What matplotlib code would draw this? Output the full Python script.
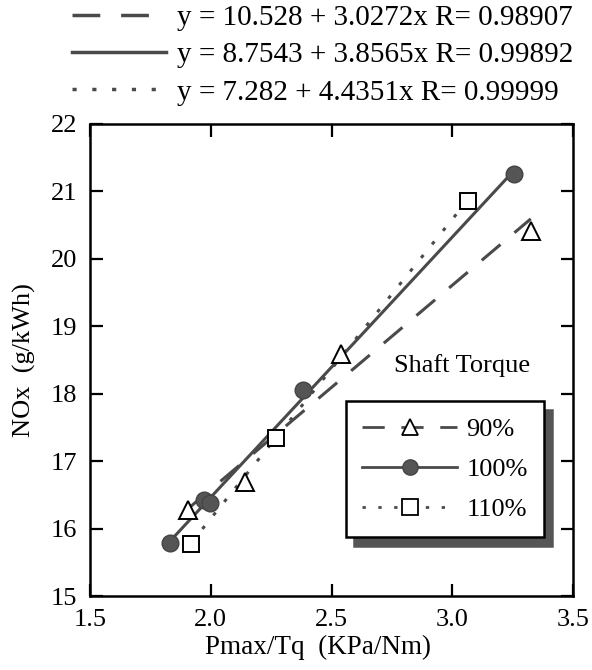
import numpy as np
import matplotlib.pyplot as plt
from matplotlib.lines import Line2D

plt.rcParams['font.family'] = ['Liberation Serif', 'DejaVu Serif']

# data
x90 = [1.905, 2.14, 2.54, 3.325]
y90 = [16.28, 16.69, 18.59, 20.42]
x100 = [1.832, 1.97, 1.998, 2.38, 3.254]
y100 = [15.79, 16.43, 16.38, 18.06, 21.26]
x110 = [1.92, 2.27, 3.064]
y110 = [15.78, 17.34, 20.86]

# fits as printed on the chart: (intercept, slope, R)
fit90 = (10.528, 3.0272, 0.98907)
fit100 = (8.7543, 3.8565, 0.99892)
fit110 = (7.282, 4.4351, 0.99999)

xticks = [1.5, 2.0, 2.5, 3.0, 3.5]
xticklabels = ["1.5", "2.0", "2.5", "3.0", "3.5"]
yticks = [15, 16, 17, 18, 19, 20, 21, 22]

gray = "#4a4a4a"
dash90 = (0, (8, 6))
dot110 = (0, (1.2, 4.5))

fig = plt.figure(figsize=(5.92, 6.70), dpi=100)
ax = fig.add_axes([0.152, 0.110, 0.816, 0.705])

def fitline(xs, fit):
    xx = np.array([min(xs), max(xs)])
    return xx, fit[0] + fit[1] * xx

xx, yy = fitline(x90, fit90)
ax.plot(xx, yy, color=gray, lw=2.2, ls=dash90)
xx, yy = fitline(x100, fit100)
ax.plot(xx, yy, color=gray, lw=2.2, ls="-")
xx, yy = fitline(x110, fit110)
ax.plot(xx, yy, color=gray, lw=2.2, ls=dot110)

ax.plot(x90, y90, ls="none", marker="^", ms=13, mfc="white", mec="black", mew=1.4)
ax.plot(x100, y100, ls="none", marker="o", ms=12, mfc="#555555", mec="#444444", mew=1)
ax.plot(x110, y110, ls="none", marker="s", ms=12, mfc="white", mec="black", mew=1.4)

ax.set_xlim(1.5, 3.5)
ax.set_ylim(15, 22)
ax.set_xticks(xticks)
ax.set_xticklabels(xticklabels)
ax.set_yticks(yticks)
ax.tick_params(direction="in", length=9, width=1.6, top=True, right=True,
               labelsize=19)
ax.tick_params(axis="x", pad=9)
ax.tick_params(axis="y", pad=9)
for s in ax.spines.values():
    s.set_linewidth(1.8)

ax.set_xlabel("Pmax/Tq  (KPa/Nm)", fontsize=19.5)
ax.xaxis.set_label_coords(0.472, -0.082)
ax.set_ylabel("NOx  (g/kWh)", fontsize=19)
ax.yaxis.set_label_coords(-0.112, 0.5)

ax.text(0.770, 0.475, "Shaft Torque", transform=ax.transAxes, ha="center",
        va="baseline", fontsize=19)

h90 = Line2D([], [], color=gray, lw=2, ls=dash90, marker="^", ms=12,
             mfc="white", mec="black", mew=1.3)
h100 = Line2D([], [], color=gray, lw=2, ls="-", marker="o", ms=11,
              mfc="#555555", mec="#444444")
h110 = Line2D([], [], color=gray, lw=2, ls=dot110, marker="s", ms=11,
              mfc="white", mec="black", mew=1.3)
leg = ax.legend([h90, h100, h110], ["90%", "100%", "110%"], loc="lower left",
                bbox_to_anchor=(0.53, 0.125), borderaxespad=0, fontsize=19,
                handlelength=3.6, handletextpad=0.34, labelspacing=0.62,
                borderpad=0.62, fancybox=False, edgecolor="black",
                shadow={"ox": 6, "oy": -6, "color": "#555555", "alpha": 1})
leg.get_frame().set_linewidth(1.8)

# fit equations above the axes
fh = [Line2D([], [], color=gray, lw=2.5, ls=dash90),
      Line2D([], [], color=gray, lw=2.5, ls="-"),
      Line2D([], [], color=gray, lw=2.5, ls=dot110)]
flabels = ["y = %s + %sx R= %s" % (f[0], f[1], f[2]) for f in (fit90, fit100, fit110)]
fig.legend(fh, flabels, loc="upper right", bbox_to_anchor=(1.013, 1.032),
           frameon=False, fontsize=21, handlelength=3.2, handletextpad=0.4,
           labelspacing=0.37)

fig.savefig("out.png", dpi=100)
